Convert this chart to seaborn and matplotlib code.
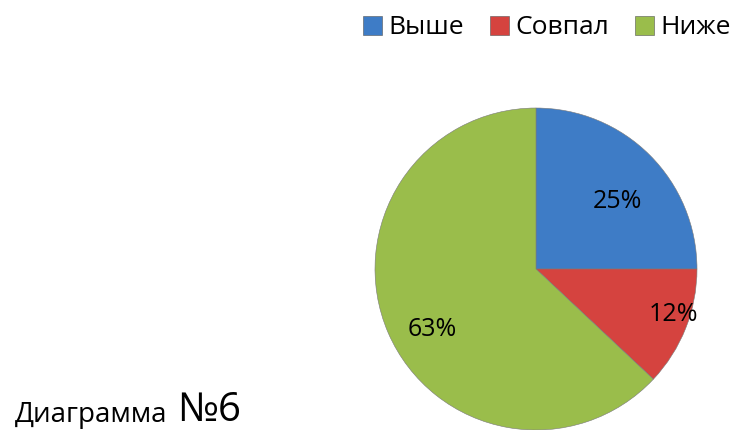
import numpy as np
import matplotlib
matplotlib.use("Agg")
import matplotlib.pyplot as plt
import matplotlib.transforms as mtransforms
import seaborn as sns

# Data
categories = ["Выше", "Совпал", "Ниже"]
shares = [25, 12, 63]
colors = ["#3E7CC6", "#D5433F", "#9ABD4B"]
# label placement (fraction of radius, degrees off the wedge middle)
label_radius = [0.67, 0.89, 0.73]
label_shift = [-3.7, 4.8, 5.1]

sns.set_theme(style="white")
plt.rcParams['font.family'] = ['Open Sans', 'DejaVu Sans']
plt.rcParams['text.color'] = 'black'

fig = plt.figure(figsize=(7.37, 4.30), dpi=100)

# pie area: centre about (536, 269) px, radius about 161 px
ax = fig.add_axes([375 / 737, (430 - 269 - 161) / 430, 322 / 737, 322 / 430])
wedges, _ = ax.pie(shares, colors=colors, startangle=90, counterclock=False,
                   radius=1.0, wedgeprops=dict(edgecolor="#7a7a7a", linewidth=0.4))
ax.set_aspect("equal")
ax.set_xlim(-1.0, 1.0)
ax.set_ylim(-1.0, 1.0)

# percentage labels (nudged down a little so digits sit centred)
nudge = mtransforms.offset_copy(ax.transData, fig=fig, x=0, y=-3, units="points")
for w, val, r, d in zip(wedges, shares, label_radius, label_shift):
    mid = np.deg2rad((w.theta1 + w.theta2) / 2 + d)
    ax.text(r * np.cos(mid), r * np.sin(mid), f"{val}%", ha="center", va="center",
            fontsize=18, color="black", transform=nudge)

# legend across the top right
handles = [plt.Rectangle((0, 0), 1, 1, facecolor=c, edgecolor="#555555", linewidth=0.4)
           for c in colors]
fig.legend(handles, categories, loc="center right", bbox_to_anchor=(731 / 737, 1 - 28 / 430),
           ncol=3, frameon=False, fontsize=19, handlelength=0.7, handleheight=0.7,
           handletextpad=0.25, columnspacing=1.0, borderaxespad=0, borderpad=0)

# caption bottom left
fig.text(15 / 737, 1 - 422 / 430, "Диаграмма", fontsize=20, ha="left", va="baseline")
fig.text(177 / 737, 1 - 421 / 430, "№6", fontsize=29, ha="left", va="baseline")

fig.savefig("out.png", dpi=100)
